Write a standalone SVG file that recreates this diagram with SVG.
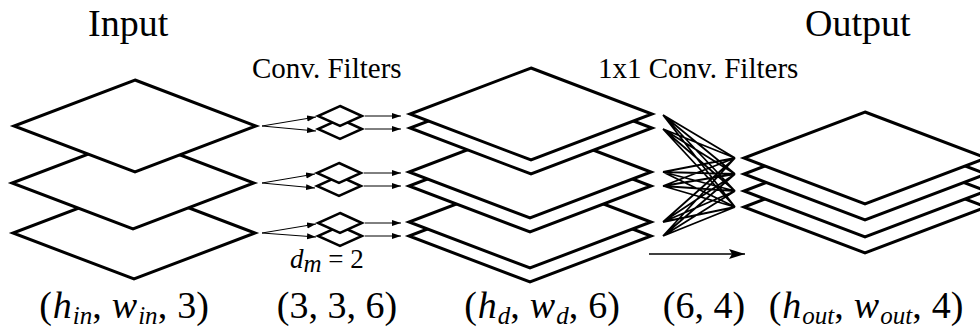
<svg xmlns="http://www.w3.org/2000/svg" width="980" height="331" viewBox="0 0 980 331">
  <style>
    .sheet { fill: #fff; stroke: #000; stroke-width: 3; stroke-linejoin: miter; }
    .kern { fill: #fff; stroke: #000; stroke-width: 2.5; }
    .thin { fill: none; stroke: #000; stroke-width: 1; }
    .mix { fill: none; stroke: #000; stroke-width: 1.8; }
    .flow { fill: none; stroke: #000; stroke-width: 1.5; }
    .title { font-family: "Liberation Serif", "Times New Roman", serif; font-size: 38px; fill: #000; }
    .caption { font-family: "Liberation Serif", "Times New Roman", serif; font-size: 29px; fill: #000; }
    .math { font-family: "Liberation Serif", "Times New Roman", serif; font-size: 38px; fill: #000; }
    .i { font-style: italic; }
    .sub { font-style: italic; font-size: 25px; }
    .small { font-family: "Liberation Serif", "Times New Roman", serif; font-size: 27px; fill: #000; }
  </style>
  <defs>
    <marker id="tip" markerUnits="userSpaceOnUse" markerWidth="10" markerHeight="8" refX="9" refY="3" orient="auto">
      <path d="M0,0 L9,3 L0,6 Z" fill="#000"/>
    </marker>
    <marker id="tipBig" markerUnits="userSpaceOnUse" markerWidth="18" markerHeight="12" refX="16" refY="5" orient="auto">
      <path d="M0,0 L16,5 L0,10 L3,5 Z" fill="#000"/>
    </marker>
    <!-- unit feature maps, centred on the origin -->
    <path id="plane" d="M0,-46 L121,0 L0,46 L-121,0 Z"/>
    <path id="kernel" d="M0,-10 L22,0 L0,10 L-22,0 Z"/>
  </defs>

  <rect width="980" height="331" fill="#fff"/>

  <!-- headings -->
  <text class="title" x="88" y="36">Input</text>
  <text class="title" x="805" y="36">Output</text>
  <text class="caption" x="252" y="78">Conv. Filters</text>
  <text class="caption" x="598" y="78">1x1 Conv. Filters</text>

  <!-- input tensor: 3 channels -->
  <g id="input">
    <use href="#plane" class="sheet" x="134" y="233"/>
    <use href="#plane" class="sheet" x="133" y="183"/>
    <use href="#plane" class="sheet" x="135" y="126"/>
  </g>

  <!-- depthwise kernels, two per input channel -->
  <g id="filters">
    <use href="#kernel" class="kern" x="340" y="129"/>
    <use href="#kernel" class="kern" x="340" y="116"/>
    <use href="#kernel" class="kern" x="339" y="186"/>
    <use href="#kernel" class="kern" x="339" y="173"/>
    <use href="#kernel" class="kern" x="340" y="236"/>
    <use href="#kernel" class="kern" x="340" y="223"/>
  </g>

  <!-- depthwise output: 6 channels -->
  <g id="depthwise">
    <use href="#plane" class="sheet" x="530" y="236"/>
    <use href="#plane" class="sheet" x="530" y="222"/>
    <use href="#plane" class="sheet" x="530" y="186"/>
    <use href="#plane" class="sheet" x="530" y="172"/>
    <use href="#plane" class="sheet" x="531" y="128"/>
    <use href="#plane" class="sheet" x="531" y="114"/>
  </g>

  <!-- pointwise output: 4 channels -->
  <g id="output">
    <use href="#plane" class="sheet" x="865" y="207"/>
    <use href="#plane" class="sheet" x="865" y="191"/>
    <use href="#plane" class="sheet" x="865" y="174"/>
    <use href="#plane" class="sheet" x="865" y="158"/>
  </g>

  <g id="connectors">
    <!-- input channel to its two kernels -->
    <path class="thin" marker-end="url(#tip)" d="M262,126 L316,117"/>
    <path class="thin" marker-end="url(#tip)" d="M262,126 L316,131"/>
    <path class="thin" marker-end="url(#tip)" d="M262,183 L315,174"/>
    <path class="thin" marker-end="url(#tip)" d="M262,183 L315,188"/>
    <path class="thin" marker-end="url(#tip)" d="M262,233 L316,224"/>
    <path class="thin" marker-end="url(#tip)" d="M262,233 L316,237"/>
    <!-- kernel to depthwise channel -->
    <path class="thin" marker-end="url(#tip)" d="M365,116 L401,116"/>
    <path class="thin" marker-end="url(#tip)" d="M365,129 L401,129"/>
    <path class="thin" marker-end="url(#tip)" d="M364,173 L401,173"/>
    <path class="thin" marker-end="url(#tip)" d="M364,186 L401,186"/>
    <path class="thin" marker-end="url(#tip)" d="M365,223 L401,223"/>
    <path class="thin" marker-end="url(#tip)" d="M365,236 L401,236"/>
    <!-- 1x1 convolution: every depthwise channel to every output channel -->
    <path class="mix" d="
      M663,115 L735,158 M663,115 L735,174 M663,115 L735,191 M663,115 L735,207
      M663,129 L735,158 M663,129 L735,174 M663,129 L735,191 M663,129 L735,207
      M663,172 L735,158 M663,172 L735,174 M663,172 L735,191 M663,172 L735,207
      M663,186 L735,158 M663,186 L735,174 M663,186 L735,191 M663,186 L735,207
      M663,222 L735,158 M663,222 L735,174 M663,222 L735,191 M663,222 L735,207
      M663,236 L735,158 M663,236 L735,174 M663,236 L735,191 M663,236 L735,207"/>
    <path class="flow" marker-end="url(#tipBig)" d="M649,254 L745,254"/>
  </g>

  <!-- depth multiplier -->
  <text class="small" x="290" y="268"><tspan class="i">d</tspan><tspan class="sub" font-size="18" dy="4">m</tspan><tspan dy="-4"> = 2</tspan></text>

  <!-- tensor shapes -->
  <g id="shapes">
    <text class="math" x="124" y="318" text-anchor="middle">(<tspan class="i" dx="1">h</tspan><tspan class="sub" dx="1" dy="6">in</tspan><tspan dy="-6">,</tspan><tspan class="i" dx="10">w</tspan><tspan class="sub" dx="1" dy="6">in</tspan><tspan dy="-6">,</tspan><tspan dx="10">3)</tspan></text>
    <text class="math" x="337" y="318" text-anchor="middle">(3, 3, 6)</text>
    <text class="math" x="542" y="318" text-anchor="middle">(<tspan class="i" dx="1">h</tspan><tspan class="sub" dx="1" dy="6">d</tspan><tspan dy="-6">,</tspan><tspan class="i" dx="10">w</tspan><tspan class="sub" dx="1" dy="6">d</tspan><tspan dy="-6">,</tspan><tspan dx="10">6)</tspan></text>
    <text class="math" x="704" y="318" text-anchor="middle">(6, 4)</text>
    <text class="math" x="866" y="318" text-anchor="middle">(<tspan class="i" dx="1">h</tspan><tspan class="sub" dx="1" dy="6">out</tspan><tspan dy="-6">,</tspan><tspan class="i" dx="10">w</tspan><tspan class="sub" dx="1" dy="6">out</tspan><tspan dy="-6">,</tspan><tspan dx="10">4)</tspan></text>
  </g>
</svg>
